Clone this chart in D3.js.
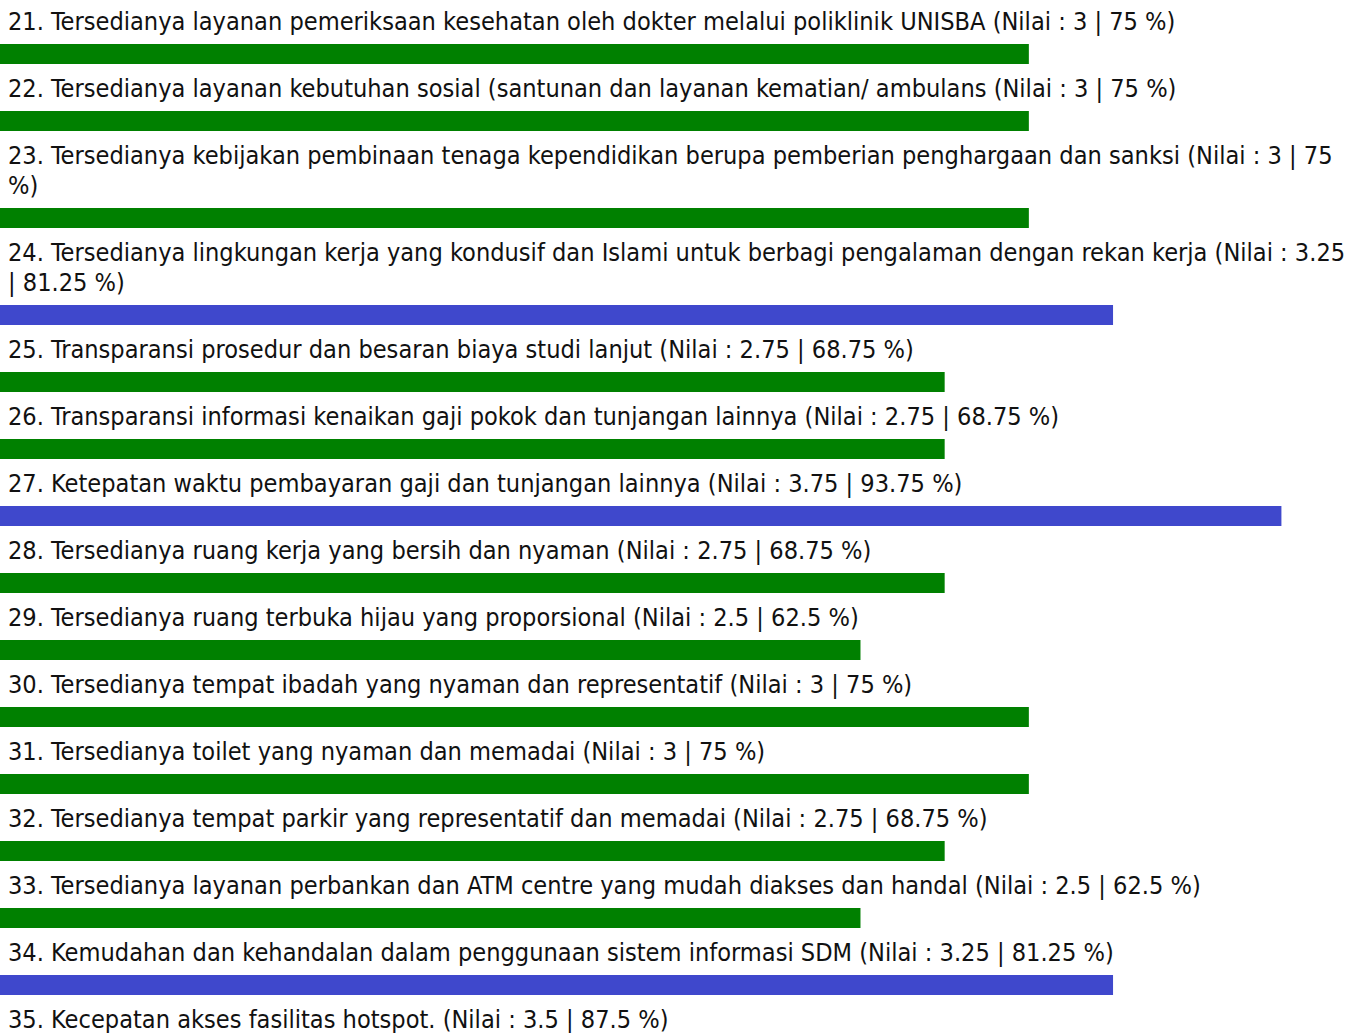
<!DOCTYPE html>
<html><head><meta charset="utf-8">
<script src="https://cdn.jsdelivr.net/npm/d3@7"></script>
<style>
html,body{margin:0;padding:0;background:#fff;overflow:hidden;}
svg text{font-family:"DejaVu Sans Condensed","DejaVu Sans",sans-serif;font-stretch:condensed;font-size:25.1px;fill:#111;}
</style></head>
<body><svg id="c" width="1365" height="1033"></svg>
<script>
const numbers = [21,22,23,24,25,26,27,28,29,30,31,32,33,34,35];
const labels = [
 "Tersedianya layanan pemeriksaan kesehatan oleh dokter melalui poliklinik UNISBA",
 "Tersedianya layanan kebutuhan sosial (santunan dan layanan kematian/ ambulans",
 "Tersedianya kebijakan pembinaan tenaga kependidikan berupa pemberian penghargaan dan sanksi",
 "Tersedianya lingkungan kerja yang kondusif dan Islami untuk berbagi pengalaman dengan rekan kerja",
 "Transparansi prosedur dan besaran biaya studi lanjut",
 "Transparansi informasi kenaikan gaji pokok dan tunjangan lainnya",
 "Ketepatan waktu pembayaran gaji dan tunjangan lainnya",
 "Tersedianya ruang kerja yang bersih dan nyaman",
 "Tersedianya ruang terbuka hijau yang proporsional",
 "Tersedianya tempat ibadah yang nyaman dan representatif",
 "Tersedianya toilet yang nyaman dan memadai",
 "Tersedianya tempat parkir yang representatif dan memadai",
 "Tersedianya layanan perbankan dan ATM centre yang mudah diakses dan handal",
 "Kemudahan dan kehandalan dalam penggunaan sistem informasi SDM",
 "Kecepatan akses fasilitas hotspot."
];
const nilai = [3,3,3,3.25,2.75,2.75,3.75,2.75,2.5,3,3,2.75,2.5,3.25,3.5];
const persen = [75,75,75,81.25,68.75,68.75,93.75,68.75,62.5,75,75,68.75,62.5,81.25,87.5];

const svg = d3.select("#c");
const x = d3.scaleLinear().domain([0,100]).range([18.6,1365.6]);
const color = v => v > 3 ? "#3F48CC" : "#008000";
const textX = 8, maxW = 1345, lineH = 30, barH = 20;

let baseline = 30;
numbers.forEach((n,i)=>{
  const full = `${n}. ${labels[i]} (Nilai : ${nilai[i]} | ${persen[i]} %)`;
  const words = full.split(" ");
  const t = svg.append("text").attr("x",textX).attr("y",baseline);
  let ts = t.append("tspan").attr("x",textX).attr("y",baseline);
  let line = [];
  let y = baseline;
  words.forEach(w=>{
    line.push(w);
    ts.text(line.join(" "));
    if (ts.node().getComputedTextLength() > maxW && line.length>1){
      line.pop(); ts.text(line.join(" "));
      line=[w]; y += lineH;
      ts = t.append("tspan").attr("x",textX).attr("y",y).text(w);
    }
  });
  const barY = y + 14;
  svg.append("rect").attr("x",0).attr("y",barY)
    .attr("width",x(persen[i])).attr("height",barH)
    .attr("fill",color(nilai[i]));
  baseline = barY + barH + 33;
});
</script></body></html>
